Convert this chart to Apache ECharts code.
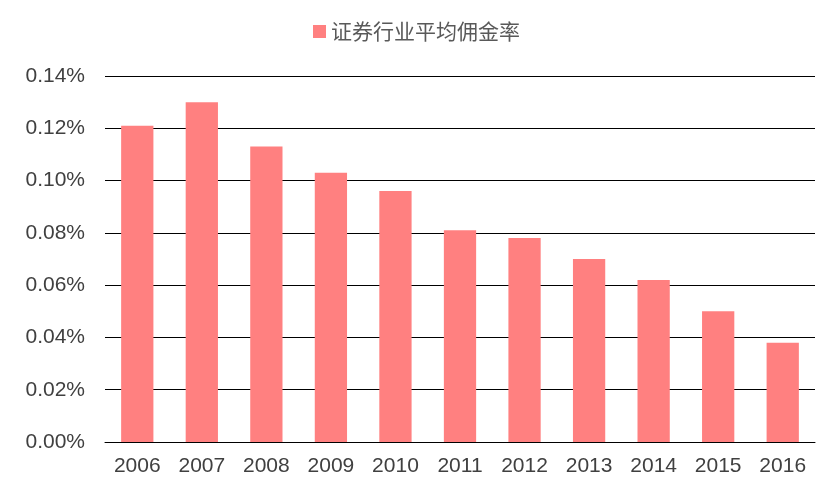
<!DOCTYPE html>
<html lang="zh">
<head>
<meta charset="UTF-8">
<title>证券行业平均佣金率</title>
<script src="https://cdn.jsdelivr.net/npm/echarts@6/dist/echarts.min.js"></script>
<style>html,body{margin:0;padding:0;background:#fff}#chart{width:833px;height:496px}</style>
</head>
<body>
<div id="chart"></div>
<script>
var years = ['2006','2007','2008','2009','2010','2011','2012','2013','2014','2015','2016'];
var rates = [0.121, 0.130, 0.113, 0.103, 0.096, 0.081, 0.078, 0.070, 0.062, 0.050, 0.038];
var seriesName = '证券行业平均佣金率';

var chart = echarts.init(document.getElementById('chart'));
chart.setOption({
	animation: false,
	legend: {
		top: 16, left: 'center',
		itemWidth: 13, itemHeight: 13, icon: 'rect',
		textStyle: {fontSize: 21, color: '#595959', fontFamily: 'Noto Sans CJK SC'},
		data: [seriesName]
	},
	grid: {left: 105, right: 18, top: 76, bottom: 54},
	xAxis: {
		type: 'category', data: years,
		axisLine: {lineStyle: {color: '#000'}},
		axisTick: {show: false},
		axisLabel: {fontSize: 21, color: '#404040', fontFamily: 'Liberation Sans', margin: 14}
	},
	yAxis: {
		type: 'value', min: 0, max: 0.14, interval: 0.02,
		axisLine: {show: false}, axisTick: {show: false},
		splitLine: {lineStyle: {color: '#000'}},
		axisLabel: {fontSize: 21, color: '#404040', fontFamily: 'Liberation Sans', margin: 20,
			formatter: function (v) { return v.toFixed(2) + '%'; }}
	},
	series: [{
		name: seriesName, type: 'bar', data: rates,
		barWidth: '50%', itemStyle: {color: '#FF8080'}
	}]
});
</script>
</body>
</html>
